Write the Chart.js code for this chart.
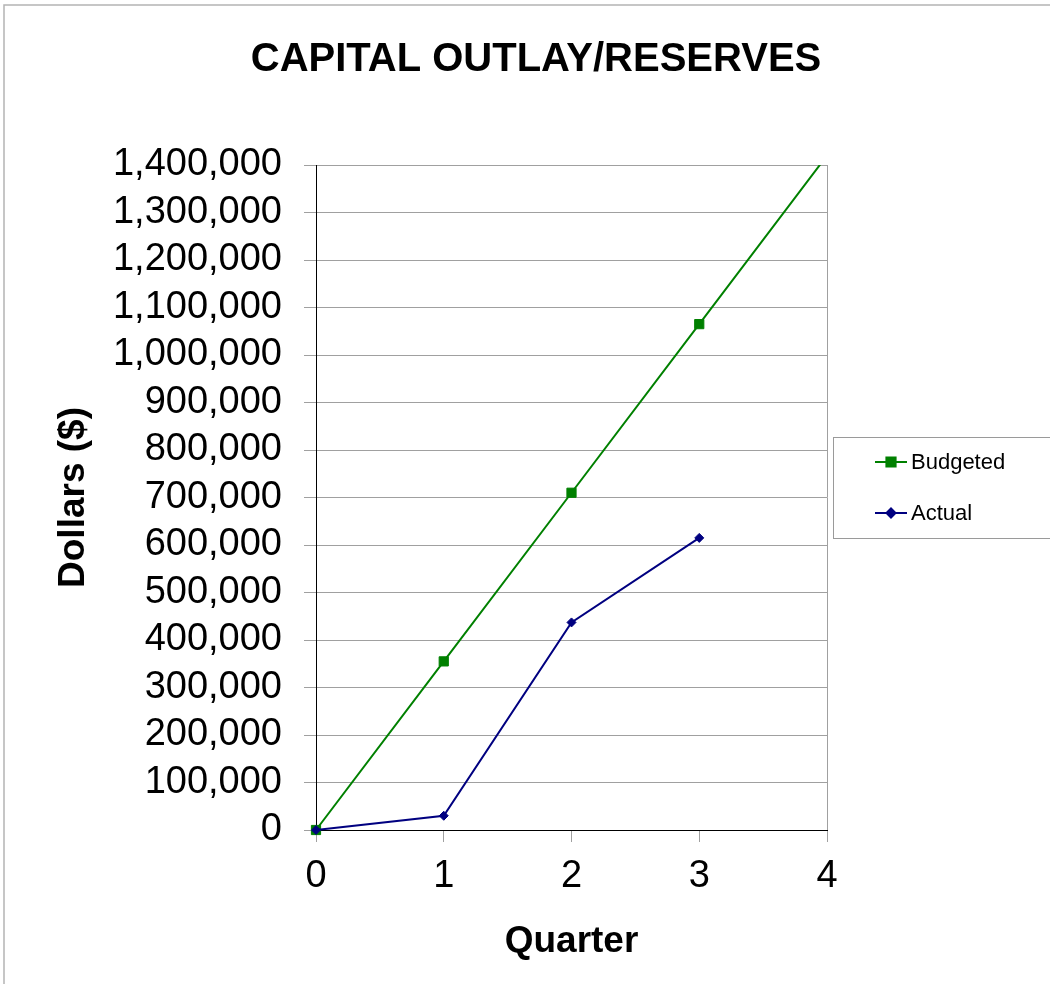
<!DOCTYPE html>
<html>
<head>
<meta charset="utf-8">
<title>Capital Outlay / Reserves</title>
<script src="https://cdn.jsdelivr.net/npm/chart.js@4/dist/chart.umd.min.js"></script>
<style>
  html, body { margin: 0; padding: 0; background: #ffffff; }
  #wrap { width: 1050px; height: 984px; }
</style>
</head>
<body>
<div id="wrap"><canvas id="chart" width="1050" height="984"></canvas></div>
<script>
// Quarters on the x axis
const quarters = [0, 1, 2, 3, 4];
// Cumulative budgeted spending (last point only carries the line past the top)
const budgeted = [0, 355000, 710000, 1065000, 1420000];
// Cumulative actual spending so far
const actual = [0, 30000, 437000, 615000];
// Which budgeted points get a marker
const budgetedMarkers = [true, true, true, true, false];

const yTicks = [0, 100000, 200000, 300000, 400000, 500000, 600000, 700000,
  800000, 900000, 1000000, 1100000, 1200000, 1300000, 1400000];

const chartTitle = 'CAPITAL OUTLAY/RESERVES';
const xTitle = 'Quarter';
const yTitle = 'Dollars ($)';
const seriesNames = ['Budgeted', 'Actual'];

const GREEN = '#008000';
const NAVY = '#000080';
const GRID = '#a0a0a0';
const FONT = '"Liberation Sans", Arial, Helvetica, sans-serif';

function toPoints(values) {
  return values.map((v, i) => ({ x: quarters[i], y: v }));
}

// Outer frame, chart heading and the boxed legend on the right
const decorations = {
  id: 'decorations',
  beforeDraw(chart) {
    const ctx = chart.ctx;
    ctx.save();
    ctx.fillStyle = '#ffffff';
    ctx.fillRect(0, 0, chart.width, chart.height);
    ctx.strokeStyle = '#b4b4b4';
    ctx.lineWidth = 1.5;
    ctx.strokeRect(4, 5, 1200, 1200);
    ctx.restore();
  },
  afterDraw(chart) {
    const ctx = chart.ctx;
    ctx.save();
    // heading
    ctx.fillStyle = '#000000';
    ctx.font = 'bold 40px ' + FONT;
    ctx.textAlign = 'center';
    ctx.textBaseline = 'middle';
    ctx.fillText(chartTitle, 536, 60);

    // legend box
    ctx.strokeStyle = '#9a9a9a';
    ctx.lineWidth = 1;
    ctx.strokeRect(833.5, 437.5, 300, 101);

    const rows = [
      { y: 462, color: GREEN, shape: 'rect', r: 6.5 },
      { y: 513, color: NAVY, shape: 'rectRot', r: 4.5 }
    ];
    rows.forEach((row, i) => {
      ctx.strokeStyle = row.color;
      ctx.lineWidth = 2;
      ctx.beginPath();
      ctx.moveTo(875, row.y);
      ctx.lineTo(907, row.y);
      ctx.stroke();
      ctx.fillStyle = row.color;
      Chart.helpers.drawPoint(ctx, { pointStyle: row.shape, radius: row.r, borderWidth: 1, rotation: 0 }, 891, row.y);
      ctx.fill();
      ctx.fillStyle = '#000000';
      ctx.font = '22px ' + FONT;
      ctx.textAlign = 'left';
      ctx.textBaseline = 'middle';
      ctx.fillText(seriesNames[i], 911, row.y + 1);
    });
    ctx.restore();
  }
};

new Chart(document.getElementById('chart'), {
  type: 'line',
  data: {
    datasets: [
      {
        label: seriesNames[0],
        data: toPoints(budgeted),
        borderColor: GREEN,
        backgroundColor: GREEN,
        borderWidth: 2,
        pointStyle: 'rect',
        pointRadius: (c) => budgetedMarkers[c.dataIndex] ? 6.5 : 0,
        pointBorderWidth: 1,
        pointBorderColor: GREEN,
        pointBackgroundColor: GREEN,
        tension: 0,
        order: 1,
        clip: { left: 12, top: 0, right: 0, bottom: 12 }
      },
      {
        label: seriesNames[1],
        data: toPoints(actual),
        borderColor: NAVY,
        backgroundColor: NAVY,
        borderWidth: 2,
        pointStyle: 'rectRot',
        pointRadius: 4.5,
        pointBorderWidth: 1,
        pointBorderColor: NAVY,
        pointBackgroundColor: NAVY,
        tension: 0,
        order: 0,
        clip: { left: 12, top: 0, right: 0, bottom: 12 }
      }
    ]
  },
  options: {
    responsive: false,
    animation: false,
    events: [],
    layout: { padding: { left: 0, top: 165, right: 223, bottom: 0 } },
    plugins: {
      legend: { display: false },
      title: { display: false },
      tooltip: { enabled: false }
    },
    scales: {
      x: {
        type: 'linear',
        min: quarters[0],
        max: quarters[quarters.length - 1],
        afterBuildTicks: (scale) => { scale.ticks = quarters.map(v => ({ value: v })); },
        afterFit: (scale) => { scale.height = 154; },
        border: { display: true, color: '#000000', width: 1 },
        grid: {
          color: (c) => (c.tick && c.tick.value === quarters[quarters.length - 1]) ? GRID : 'rgba(0,0,0,0)',
          tickColor: GRID,
          tickLength: 12,
          lineWidth: 1
        },
        ticks: {
          color: '#000000',
          font: { family: FONT, size: 38 },
          padding: 12,
          maxRotation: 0,
          autoSkip: false,
          callback: (v) => String(v)
        },
        title: {
          display: true,
          text: xTitle,
          color: '#000000',
          font: { family: FONT, size: 37, weight: 'bold' },
          padding: { top: 0, bottom: 20 }
        }
      },
      y: {
        type: 'linear',
        min: yTicks[0],
        max: yTicks[yTicks.length - 1],
        afterBuildTicks: (scale) => { scale.ticks = yTicks.map(v => ({ value: v })); },
        afterFit: (scale) => { scale.width = 316; },
        border: { display: true, color: '#000000', width: 1 },
        grid: {
          color: GRID,
          tickColor: GRID,
          tickLength: 12,
          lineWidth: 1
        },
        ticks: {
          color: '#000000',
          font: { family: FONT, size: 38 },
          padding: 22,
          autoSkip: false,
          callback: (v) => Number(v).toLocaleString('en-US')
        },
        title: {
          display: true,
          text: yTitle,
          color: '#000000',
          font: { family: FONT, size: 37, weight: 'bold' },
          padding: { top: 52, bottom: 0 }
        }
      }
    }
  },
  plugins: [decorations]
});
</script>
</body>
</html>
